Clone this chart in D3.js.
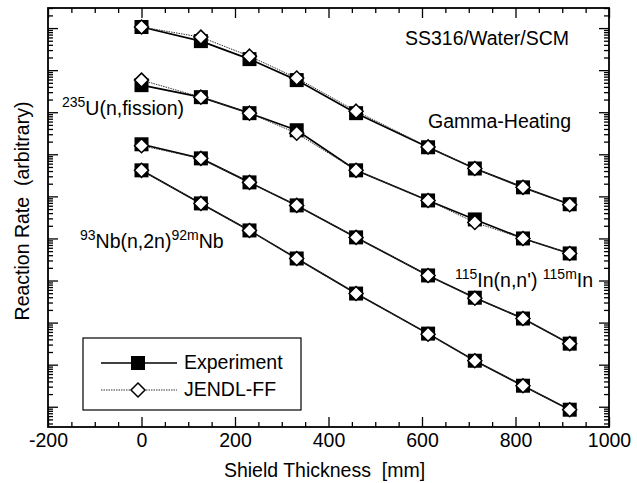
<!DOCTYPE html>
<html>
<head>
<meta charset="utf-8">
<title>Reaction rates vs shield thickness</title>
<script src="https://d3js.org/d3.v7.min.js"></script>
<style>
  body { margin: 0; background: #fff; }
  text { font-family: "Liberation Sans", Arial, Helvetica, sans-serif; fill: #000; white-space: pre; }
</style>
</head>
<body>
<div id="chart"></div>
<script>
// shield positions (mm)
var thickness = [0, 127, 231, 332, 459, 613, 713, 816, 916];

// reaction rates, arbitrary units
var gammaExp   = [1.06e10, 4.9e9, 1.83e9, 5.8e8, 9.5e7, 1.47e7, 4.6e6, 1.64e6, 6.5e5];
var gammaJendl = [1.06e10, 6.1e9, 2.15e9, 6.5e8, 1.06e8, 1.5e7, 4.6e6, 1.64e6, 6.3e5];
var fisExp     = [4.4e8, 2.28e8, 9.5e7, 3.73e7, 4.16e6, 8.0e5, 2.83e5, 1.0e5, 4.4e4];
var fisJendl   = [5.8e8, 2.28e8, 9.5e7, 3.16e7, 4.16e6, 8.0e5, 2.4e5, 1.0e5, 4.4e4];
var inExp      = [1.73e7, 8.0e6, 2.15e6, 6.1e5, 1.06e5, 1.32e4, 3.9e3, 1.25e3, 316];
var inJendl    = [1.6e7, 8.0e6, 2.15e6, 6.1e5, 1.06e5, 1.32e4, 3.8e3, 1.25e3, 316];
var nbExp      = [4.16e6, 6.8e5, 1.55e5, 3.34e4, 4.9e3, 547, 124, 31.6, 8.5];
var nbJendl    = [4.16e6, 6.8e5, 1.55e5, 3.34e4, 4.9e3, 530, 124, 31.6, 8.5];

var xTicks = [-200, 0, 200, 400, 600, 800, 1000];

var W = 637, H = 483;
var pl = 48, pr = 609, pt = 8, pb = 427;

var svg = d3.select("#chart").append("svg")
    .attr("width", W).attr("height", H);

var x = d3.scaleLinear().domain([-200, 1000]).range([pl, pr]);
var y = d3.scaleLog().domain([3.3, 3e10]).range([pb, pt]);

// ticks
var minorX = d3.range(-200, 1001, 50).filter(function(v){ return v % 200 != 0; });
var yAll = y.ticks();
var decades = yAll.filter(function(v){ return Math.abs(Math.log10(v) - Math.round(Math.log10(v))) < 1e-9; });
var minorY = yAll.filter(function(v){ return decades.indexOf(v) < 0; });

function clean(g) { g.select(".domain").remove(); g.selectAll("line").attr("stroke", "#000").attr("stroke-width", 1.3); }

svg.append("g").attr("transform", "translate(0," + pb + ")")
    .call(d3.axisBottom(x).tickValues(xTicks).tickSize(-10).tickPadding(6)
        .tickFormat(function(d){ return d; }))
    .call(clean)
    .selectAll("text").style("font-size", "19.5px");
svg.append("g").attr("transform", "translate(0," + pb + ")")
    .call(d3.axisBottom(x).tickValues(minorX).tickSize(-5).tickFormat(""))
    .call(clean);
svg.append("g").attr("transform", "translate(0," + pt + ")")
    .call(d3.axisTop(x).tickValues(xTicks).tickSize(-10).tickFormat(""))
    .call(clean);
svg.append("g").attr("transform", "translate(0," + pt + ")")
    .call(d3.axisTop(x).tickValues(minorX).tickSize(-5).tickFormat(""))
    .call(clean);

svg.append("g").attr("transform", "translate(" + pl + ",0)")
    .call(d3.axisLeft(y).tickValues(decades).tickSize(-10).tickFormat(""))
    .call(clean);
svg.append("g").attr("transform", "translate(" + pl + ",0)")
    .call(d3.axisLeft(y).tickValues(minorY).tickSize(-5).tickFormat(""))
    .call(clean);
svg.append("g").attr("transform", "translate(" + pr + ",0)")
    .call(d3.axisRight(y).tickValues(decades).tickSize(-10).tickFormat(""))
    .call(clean);
svg.append("g").attr("transform", "translate(" + pr + ",0)")
    .call(d3.axisRight(y).tickValues(minorY).tickSize(-5).tickFormat(""))
    .call(clean);

// frame
svg.append("rect").attr("x", pl).attr("y", pt)
    .attr("width", pr - pl).attr("height", pb - pt)
    .attr("fill", "none").attr("stroke", "#000").attr("stroke-width", 1.8);

// axis titles
svg.append("text").attr("x", (pl + pr) / 2 - 4).attr("y", 477)
    .attr("text-anchor", "middle").style("font-size", "19.5px")
    .text("Shield Thickness  [mm]");
svg.append("text").attr("transform", "translate(29,211) rotate(-90)")
    .attr("text-anchor", "middle").style("font-size", "19.5px")
    .text("Reaction Rate  (arbitrary)");

// series
var series = [
  { exp: gammaExp, jendl: gammaJendl },
  { exp: fisExp, jendl: fisJendl },
  { exp: inExp, jendl: inJendl },
  { exp: nbExp, jendl: nbJendl }
];

var line = d3.line()
    .x(function(d){ return x(d[0]); })
    .y(function(d){ return y(d[1]); });

var sq = 14, dm = 7;

function squares(g, pts) {
  g.selectAll(null).data(pts).enter().append("rect")
    .attr("x", function(d){ return x(d[0]) - sq / 2; })
    .attr("y", function(d){ return y(d[1]) - sq / 2; })
    .attr("width", sq).attr("height", sq)
    .attr("fill", "#000");
}
function diamonds(g, pts) {
  g.selectAll(null).data(pts).enter().append("path")
    .attr("d", function(d){
      var cx = x(d[0]), cy = y(d[1]);
      return "M" + cx + "," + (cy - dm) + "L" + (cx + dm) + "," + cy +
             "L" + cx + "," + (cy + dm) + "L" + (cx - dm) + "," + cy + "Z";
    })
    .attr("fill", "#fff").attr("stroke", "#000").attr("stroke-width", 1.5);
}

series.forEach(function(s) {
  var pe = thickness.map(function(t, i){ return [t, s.exp[i]]; });
  var pj = thickness.map(function(t, i){ return [t, s.jendl[i]]; });
  svg.append("path").datum(pe).attr("d", line)
    .attr("fill", "none").attr("stroke", "#000").attr("stroke-width", 1.7);
  svg.append("path").datum(pj).attr("d", line)
    .attr("fill", "none").attr("stroke", "#333").attr("stroke-width", 1)
    .attr("stroke-dasharray", "1.5,1");
  var g = svg.append("g");
  squares(g, pe);
  diamonds(g, pj);
});

// annotations
svg.append("text").attr("x", 405).attr("y", 45).style("font-size", "19.5px").text("SS316/Water/SCM");
svg.append("text").attr("x", 428).attr("y", 128).style("font-size", "19.5px").text("Gamma-Heating");

function labelled(xp, yp, parts) {
  var t = svg.append("text").attr("x", xp).attr("y", yp).style("font-size", "19.5px");
  var up = false;
  parts.forEach(function(p) {
    var sup = p[1];
    t.append("tspan").text(p[0])
      .attr("dy", sup && !up ? -8 : (!sup && up ? 8 : 0))
      .style("font-size", sup ? "14px" : "19.5px");
    up = sup;
  });
}
labelled(62, 115, [["235", true], ["U(n,fission)", false]]);
labelled(80, 248, [["93", true], ["Nb(n,2n)", false], ["92m", true], ["Nb", false]]);
labelled(455, 287, [["115", true], ["In(n,n') ", false], ["115m", true], ["In", false]]);

// legend
var lg = svg.append("g");
lg.append("rect").attr("x", 83).attr("y", 338).attr("width", 218).attr("height", 72)
  .attr("fill", "#fff").attr("stroke", "#000").attr("stroke-width", 1.2);
lg.append("line").attr("x1", 101).attr("x2", 177).attr("y1", 363).attr("y2", 363)
  .attr("stroke", "#000").attr("stroke-width", 1.3);
lg.append("rect").attr("x", 138 - sq / 2).attr("y", 363 - sq / 2)
  .attr("width", sq).attr("height", sq).attr("fill", "#000");
lg.append("line").attr("x1", 101).attr("x2", 177).attr("y1", 390).attr("y2", 390)
  .attr("stroke", "#333").attr("stroke-width", 1).attr("stroke-dasharray", "1.5,1");
lg.append("path")
  .attr("d", "M138," + (390 - dm) + "L" + (138 + dm) + ",390L138," + (390 + dm) + "L" + (138 - dm) + ",390Z")
  .attr("fill", "#fff").attr("stroke", "#000").attr("stroke-width", 1.5);
lg.append("text").attr("x", 184).attr("y", 369).style("font-size", "19.5px").text("Experiment");
lg.append("text").attr("x", 184).attr("y", 396).style("font-size", "19.5px").text("JENDL-FF");
</script>
</body>
</html>
